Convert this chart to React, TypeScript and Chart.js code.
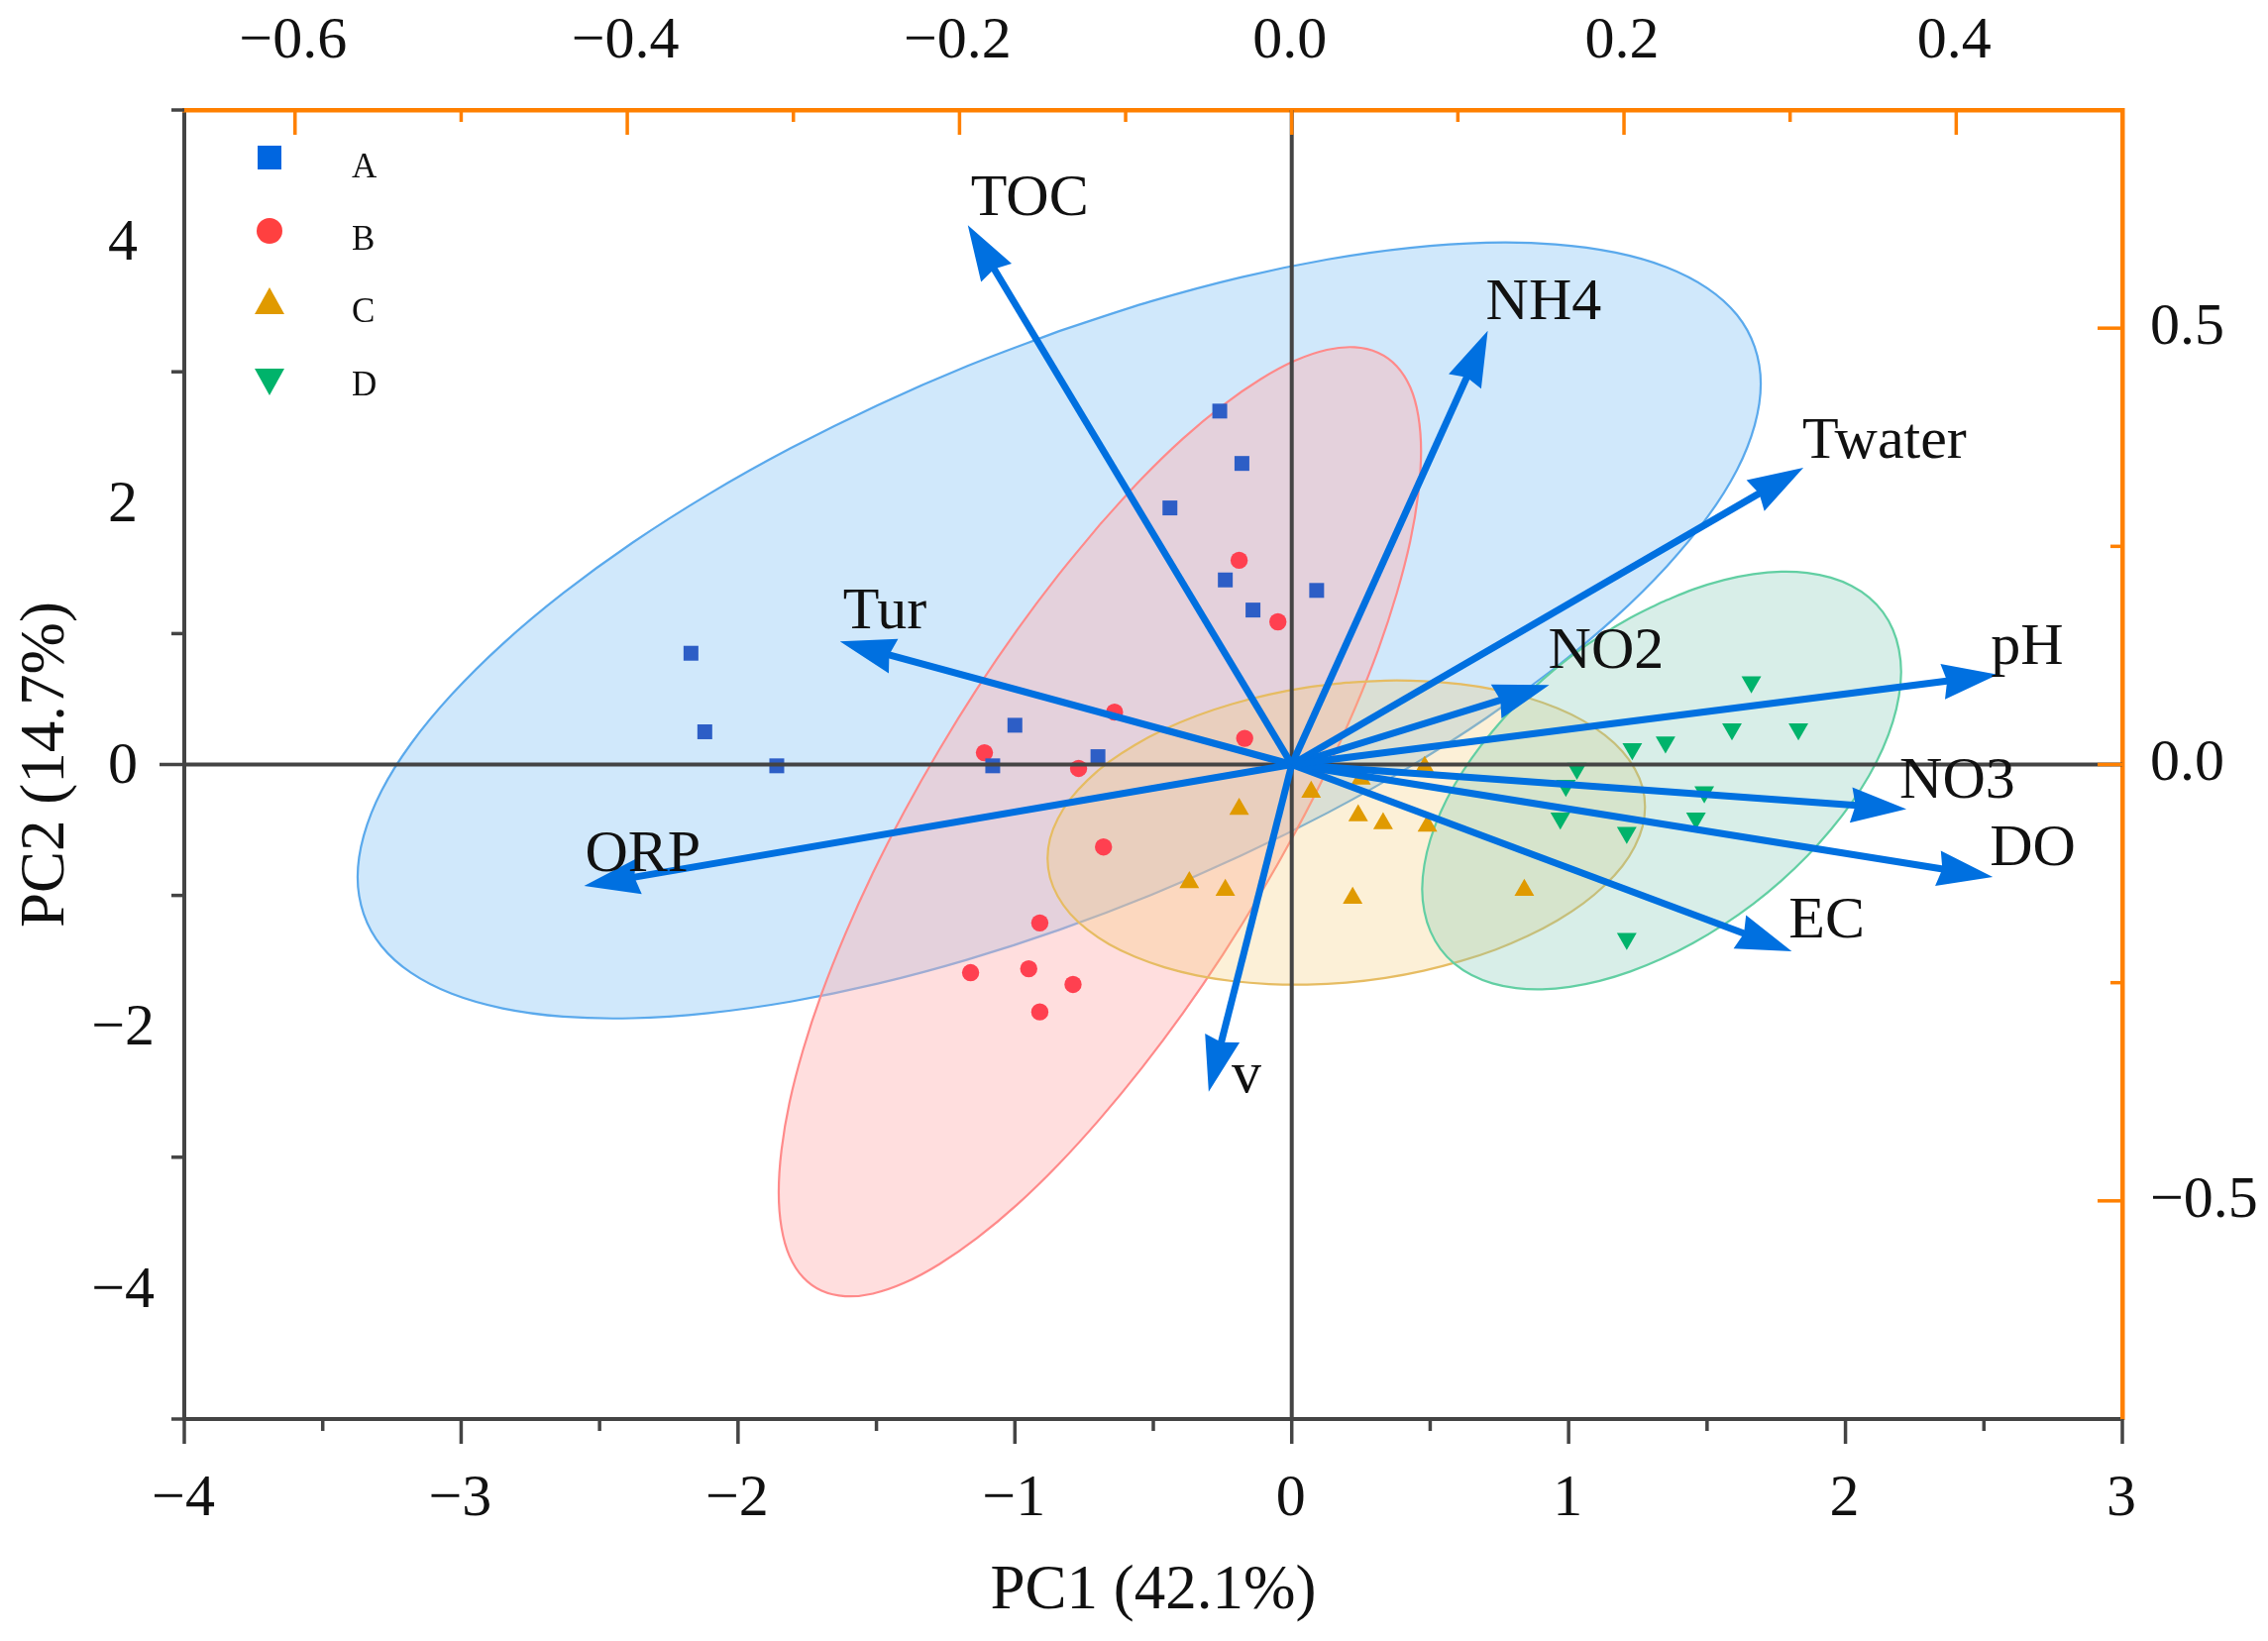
import React, { useEffect, useRef } from "react";
import { Chart, registerables } from "chart.js";

Chart.register(...registerables);

// ---------- scores (PC1 / PC2) ----------
const aX = [-0.26, -0.18, -0.44, -0.24, -0.14, 0.09, -2.17, -2.12, -1.86, -1.0, -1.08, -0.7];
const aY = [2.7, 2.3, 1.96, 1.41, 1.18, 1.33, 0.85, 0.25, -0.01, 0.3, -0.01, 0.06];
const bX = [-0.19, -0.05, -0.64, -0.17, -1.11, -0.77, -0.68, -0.91, -1.16, -0.95, -0.79, -0.91];
const bY = [1.56, 1.09, 0.4, 0.2, 0.09, -0.03, -0.63, -1.21, -1.59, -1.56, -1.68, -1.89];
const cX = [0.48, 0.25, 0.07, -0.19, 0.24, 0.33, 0.49, -0.37, -0.24, 0.22, 0.84];
const cY = [-0.02, -0.11, -0.21, -0.34, -0.39, -0.45, -0.47, -0.9, -0.96, -1.02, -0.96];
const dX = [1.66, 1.59, 1.83, 1.35, 1.23, 1.03, 0.99, 1.49, 1.46, 0.97, 1.21, 1.21];
const dY = [0.63, 0.27, 0.27, 0.17, 0.12, -0.03, -0.16, -0.21, -0.41, -0.41, -0.52, -1.33];

// ---------- confidence ellipses, outlines ----------
const ellAX = [1.694,1.672,1.608,1.501,1.354,1.170,.952,.703,.427,.130,-.184,-.509,-.84,-1.171,-1.496,-1.810,-2.107,-2.383,-2.632,-2.850,-3.034,-3.181,-3.288,-3.352,-3.374,-3.352,-3.288,-3.181,-3.034,-2.850,-2.632,-2.383,-2.107,-1.810,-1.496,-1.171,-.84,-.509,-.184,.130,.427,.703,.952,1.170,1.354,1.501,1.608,1.672,1.694];
const ellAY = [2.908,3.190,3.435,3.639,3.799,3.911,3.974,3.986,3.947,3.859,3.722,3.538,3.311,3.045,2.745,2.416,2.064,1.692,1.308,.921,.535,.159,-.202,-.544,-.860,-1.142,-1.387,-1.591,-1.751,-1.863,-1.926,-1.938,-1.899,-1.811,-1.674,-1.490,-1.263,-.997,-.697,-.368,-.016,.356,.740,1.127,1.513,1.889,2.250,2.592,2.908];
const ellBX = [.467,.457,.428,.379,.312,.227,.127,.013,-.113,-.249,-.393,-.542,-.693,-.844,-.993,-1.137,-1.273,-1.399,-1.513,-1.613,-1.698,-1.765,-1.814,-1.843,-1.853,-1.843,-1.814,-1.765,-1.698,-1.613,-1.513,-1.399,-1.273,-1.137,-.993,-.844,-.693,-.542,-.393,-.249,-.113,.013,.127,.227,.312,.379,.428,.457,.467];
const ellBY = [2.392,2.664,2.882,3.044,3.146,3.188,3.168,3.086,2.943,2.744,2.490,2.184,1.833,1.445,1.025,.578,.114,-.357,-.829,-1.297,-1.750,-2.180,-2.581,-2.945,-3.266,-3.538,-3.756,-3.918,-4.020,-4.062,-4.042,-3.960,-3.817,-3.618,-3.364,-3.058,-2.707,-2.319,-1.899,-1.452,-.988,-.517,-.045,.423,.876,1.306,1.707,2.071,2.392];
const ellCX = [1.276,1.267,1.239,1.194,1.131,1.053,.960,.854,.737,.610,.476,.338,.197,.056,-.082,-.216,-.343,-.460,-.566,-.659,-.737,-.800,-.845,-.873,-.882,-.873,-.845,-.800,-.737,-.659,-.566,-.460,-.343,-.216,-.082,.056,.197,.338,.476,.610,.737,.854,.960,1.053,1.131,1.194,1.239,1.267,1.276];
const ellCY = [-.322,-.175,-.033,.101,.224,.334,.429,.509,.571,.614,.637,.641,.626,.590,.535,.462,.373,.268,.150,.021,-.118,-.264,-.414,-.566,-.718,-.865,-1.007,-1.141,-1.264,-1.374,-1.469,-1.549,-1.611,-1.654,-1.677,-1.681,-1.666,-1.630,-1.575,-1.502,-1.413,-1.308,-1.190,-1.061,-.922,-.776,-.626,-.474,-.322];
const ellDX = [2.201,2.193,2.171,2.135,2.085,2.022,1.947,1.862,1.768,1.667,1.560,1.449,1.336,1.223,1.112,1.005,.904,.810,.725,.650,.587,.537,.501,.479,.471,.479,.501,.537,.587,.650,.725,.810,.904,1.005,1.112,1.223,1.336,1.449,1.560,1.667,1.768,1.862,1.947,2.022,2.085,2.135,2.171,2.193,2.201];
const ellDY = [.707,.878,1.031,1.165,1.277,1.365,1.428,1.464,1.473,1.454,1.409,1.337,1.240,1.120,.979,.820,.644,.454,.254,.049,-.159,-.367,-.570,-.766,-.951,-1.122,-1.275,-1.409,-1.521,-1.609,-1.672,-1.708,-1.717,-1.698,-1.653,-1.581,-1.484,-1.364,-1.223,-1.064,-.888,-.698,-.498,-.293,-.085,.123,.326,.522,.707];

// ---------- loadings (top / right axes) ----------
const loadingNames = ["TOC", "NH4", "Twater", "pH", "NO2", "NO3", "DO", "EC", "v", "ORP", "Tur"];
const loadingX = [-0.195, 0.118, 0.308, 0.425, 0.155, 0.37, 0.422, 0.301, -0.05, -0.426, -0.272];
const loadingY = [0.618, 0.497, 0.34, 0.103, 0.091, -0.051, -0.129, -0.214, -0.375, -0.139, 0.141];

// ---------- tick values ----------
const bottomMajor = [-4, -3, -2, -1, 0, 1, 2, 3];
const bottomMinor = [-3.5, -2.5, -1.5, -0.5, 0.5, 1.5, 2.5];
const leftLabels = [-4, -2, 0, 2, 4];
const leftLongMarks = [0];
const leftMinor = [-5, -3, -1, 1, 3, 5];
const topMajor = [-0.6, -0.4, -0.2, 0, 0.2, 0.4];
const topMinor = [-0.5, -0.3, -0.1, 0.1, 0.3];
const rightMajor = [-0.5, 0, 0.5];
const rightMinor = [-0.25, 0.25];

const legendNames = ["A", "B", "C", "D"];

// ---------- styles ----------
const SERIF = "'Liberation Serif', serif";
const DARK = "#444444";
const ORANGE = "#FF8000";
const ARROW = "#0070E0";
const W = 2289;
const H = 1656;

const zip = (xs: number[], ys: number[]) => xs.map((x, i) => ({ x, y: ys[i] }));
// start each closed outline on a flat side, so the join does not show
const fromFlatSide = (a: number[]) => [...a.slice(12, 48), ...a.slice(0, 13)];
const minus = (s: string) => s.replace("-", "\u2212");

const fixedScale = (
  position: string,
  size: number,
  min: number,
  max: number,
  color: string,
  values: number[],
  decimals: number,
  padding: number,
  labelOffset: number,
  crossAlign: string,
  title?: any
) => ({
  type: "linear",
  position,
  min,
  max,
  border: { color, width: position === "left" || position === "bottom" ? 4 : 4.5 },
  grid: { display: false, drawTicks: false, drawOnChartArea: false },
  title: title || { display: false },
  ticks: {
    autoSkip: false,
    maxRotation: 0,
    padding,
    labelOffset,
    crossAlign,
    color: "#111111",
    font: { family: SERIF, size: 60 },
    callback: (v: number) => minus(Number(v).toFixed(decimals)),
  },
  afterBuildTicks: (s: any) => {
    s.ticks = values.map((value) => ({ value }));
  },
  afterFit: (s: any) => {
    if (position === "top" || position === "bottom") s.height = size;
    else s.width = size;
    s.paddingLeft = s.paddingRight = s.paddingTop = s.paddingBottom = 0;
  },
});

const tickMarks = {
  id: "tickMarks",
  afterDatasetsDraw(chart: any) {
    const { ctx, scales, chartArea } = chart;
    const mark = (
      axis: "x" | "y" | "x2" | "y2",
      values: number[],
      len: number,
      color: string,
      width: number
    ) => {
      ctx.save();
      ctx.strokeStyle = color;
      ctx.lineWidth = width;
      const s = scales[axis];
      values.forEach((v) => {
        const p = s.getPixelForValue(v);
        ctx.beginPath();
        if (axis === "x") {
          ctx.moveTo(p, chartArea.bottom);
          ctx.lineTo(p, chartArea.bottom + len);
        } else if (axis === "x2") {
          ctx.moveTo(p, chartArea.top);
          ctx.lineTo(p, chartArea.top + len);
        } else if (axis === "y") {
          ctx.moveTo(chartArea.left, p);
          ctx.lineTo(chartArea.left - len, p);
        } else {
          ctx.moveTo(chartArea.right, p);
          ctx.lineTo(chartArea.right - len, p);
        }
        ctx.stroke();
      });
      ctx.restore();
    };
    mark("x", bottomMajor, 25, DARK, 3.5);
    mark("x", bottomMinor, 12, DARK, 3.5);
    mark("y", leftLongMarks, 25, DARK, 3.5);
    mark("y", leftMinor, 13, DARK, 3.5);
    mark("x2", topMajor, 25, ORANGE, 3.5);
    mark("x2", topMinor, 12, ORANGE, 3.5);
    mark("y2", rightMajor, 25, ORANGE, 3.5);
    mark("y2", rightMinor, 12, ORANGE, 3.5);
  },
};

// pixel offsets of each variable's name from its arrow tip
const labelDX = [3, -2, -1, -7, -1, -7, -3, -3, 23, 1, 3];
const labelDY = [-26, -28, -26, -27, -33, -27, -28, -30, -16, -31, -29];

const arrowHeads = {
  id: "arrowHeads",
  afterDatasetsDraw(chart: any) {
    const { ctx } = chart;
    const LEN = 56;
    const HALF = 18;
    chart.data.datasets.forEach((ds: any, i: number) => {
      if (ds.loadingIndex === undefined) return;
      const pts = chart.getDatasetMeta(i).data;
      const a = pts[0];
      const b = pts[1];
      const ang = Math.atan2(b.y - a.y, b.x - a.x);
      const c = Math.cos(ang);
      const s = Math.sin(ang);
      ctx.save();
      ctx.fillStyle = ARROW;
      ctx.beginPath();
      ctx.moveTo(b.x, b.y);
      ctx.lineTo(b.x - LEN * c - HALF * s, b.y - LEN * s + HALF * c);
      ctx.lineTo(b.x - LEN * 0.92 * c, b.y - LEN * 0.92 * s);
      ctx.lineTo(b.x - LEN * c + HALF * s, b.y - LEN * s - HALF * c);
      ctx.closePath();
      ctx.fill();
      ctx.fillStyle = "#111111";
      ctx.font = `60px ${SERIF}`;
      ctx.textAlign = "left";
      ctx.textBaseline = "middle";
      const k = ds.loadingIndex;
      ctx.fillText(loadingNames[k], b.x + labelDX[k], b.y + labelDY[k]);
      ctx.restore();
    });
  },
};

const markerLegend = {
  id: "markerLegend",
  afterDraw(chart: any) {
    const { ctx } = chart;
    const mx = 272;
    const my = [159, 233, 304, 385];
    const ty = [170, 243, 316, 390];
    const colors = ["#0066E0", "#FF4040", "#E09A00", "#00B36B"];
    legendNames.forEach((name, i) => {
      ctx.save();
      ctx.fillStyle = colors[i];
      ctx.beginPath();
      if (i === 0) ctx.rect(mx - 12, my[i] - 12, 24, 24);
      if (i === 1) ctx.arc(mx, my[i], 13, 0, Math.PI * 2);
      if (i === 2) {
        ctx.moveTo(mx, my[i] - 14);
        ctx.lineTo(mx + 15, my[i] + 13);
        ctx.lineTo(mx - 15, my[i] + 13);
      }
      if (i === 3) {
        ctx.moveTo(mx, my[i] + 14);
        ctx.lineTo(mx + 15, my[i] - 13);
        ctx.lineTo(mx - 15, my[i] - 13);
      }
      ctx.closePath();
      ctx.fill();
      ctx.fillStyle = "#111111";
      ctx.font = `35px ${SERIF}`;
      ctx.textAlign = "left";
      ctx.textBaseline = "middle";
      ctx.fillText(name, 355, ty[i]);
      ctx.restore();
    });
  },
};

const ellipse = (label: string, xs: number[], ys: number[], fill: string, line: string, order: number) => ({
  label,
  data: zip(fromFlatSide(xs), fromFlatSide(ys)),
  showLine: true,
  tension: 0.35,
  capBezierPoints: false,
  fill: "shape",
  backgroundColor: fill,
  borderColor: line,
  borderWidth: 2.2,
  pointRadius: 0,
  order,
});

const scatter = (label: string, xs: number[], ys: number[], color: string, pointStyle: string, r: number, rotation = 0) => ({
  label,
  data: zip(xs, ys),
  showLine: false,
  backgroundColor: color,
  borderColor: color,
  pointStyle,
  pointRadius: r,
  pointBorderWidth: 0,
  rotation,
  order: 8,
});

const zeroLine = (label: string, xs: number[], ys: number[]) => ({
  label,
  data: zip(xs, ys),
  showLine: true,
  borderColor: DARK,
  borderWidth: 4,
  pointRadius: 0,
  order: 6,
  clip: false,
});

const arrow = (k: number) => ({
  label: loadingNames[k],
  loadingIndex: k,
  xAxisID: "x2",
  yAxisID: "y2",
  data: [
    { x: 0, y: 0 },
    { x: loadingX[k], y: loadingY[k] },
  ],
  showLine: true,
  borderColor: ARROW,
  borderWidth: 7,
  pointRadius: 0,
  order: 4,
  clip: false,
  segment: {
    borderDash: (c: any) => [Math.hypot(c.p1.x - c.p0.x, c.p1.y - c.p0.y) - 40, 5000],
  },
});

const titleFont = { family: SERIF, size: 63 };

export default function App() {
  const ref = useRef<HTMLCanvasElement | null>(null);
  useEffect(() => {
    document.body.style.margin = "0";
    const chart = new Chart(ref.current as any, {
      type: "scatter",
      plugins: [tickMarks, arrowHeads, markerLegend],
      data: {
        datasets: [
          ellipse("A ellipse", ellAX, ellAY, "rgba(161,209,247,0.5)", "#5AA9EC", 13),
          ellipse("B ellipse", ellBX, ellBY, "rgba(255,177,177,0.42)", "#FF8A8A", 12),
          ellipse("C ellipse", ellCX, ellCY, "rgba(245,200,110,0.28)", "#E6BC62", 11),
          ellipse("D ellipse", ellDX, ellDY, "rgba(125,198,178,0.3)", "#62CFA3", 10),
          scatter("A", aX, aY, "#2D5EC6", "rect", 10.6),
          scatter("B", bX, bY, "#FF4050", "circle", 8.7),
          scatter("C", cX, cY, "#E09A00", "triangle", 11.5),
          scatter("D", dX, dY, "#00B36B", "triangle", 11.5, 180),
          zeroLine("zero x", [-4, 3], [0, 0]),
          zeroLine("zero y", [0, 0], [-5, 5]),
          ...loadingNames.map((_, k) => arrow(k)),
        ] as any,
      },
      options: {
        responsive: false,
        devicePixelRatio: 1,
        animation: false,
        events: [],
        layout: { padding: 0 },
        plugins: { legend: { display: false }, tooltip: { enabled: false } },
        scales: {
          x: fixedScale("bottom", H - 1432, -4, 3, DARK, bottomMajor, 0, 45, -1, "near", {
            display: true,
            text: "PC1 (42.1%)",
            color: "#111111",
            font: titleFont,
            padding: { top: 0, bottom: 12 },
          }),
          y: fixedScale("left", 186, -5, 5, DARK, leftLabels, 0, 30, 3, "center", {
            display: true,
            text: "PC2 (14.7%)",
            color: "#111111",
            font: titleFont,
            padding: { top: 10, bottom: 0 },
          }),
          x2: fixedScale("top", 111, -2 / 3, 0.5, ORANGE, topMajor, 1, 33, -2, "near"),
          y2: fixedScale("right", W - 2142, -0.75, 0.75, ORANGE, rightMajor, 1, 28, 0, "near"),
        } as any,
      },
    });
    return () => chart.destroy();
  }, []);
  return <canvas ref={ref} width={W} height={H} style={{ display: "block", width: W, height: H }} />;
}
